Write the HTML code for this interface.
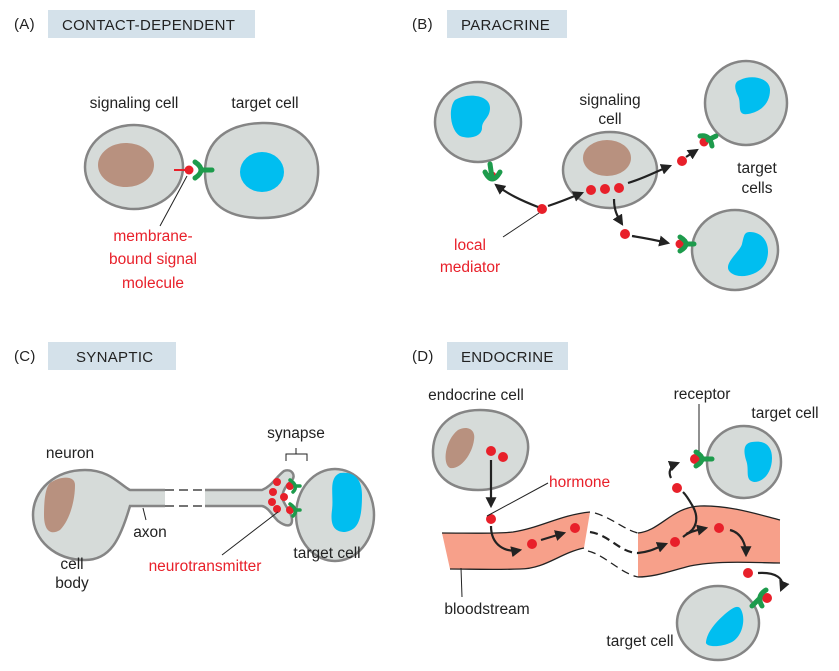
<!DOCTYPE html>
<html><head><meta charset="utf-8"><style>
html,body{margin:0;padding:0;background:#fff;}
svg{display:block;font-family:"Liberation Sans",sans-serif;}
.c{fill:#d6dbd9;stroke:#858585;stroke-width:2.5}
.br{fill:#b8917f}
.bl{fill:#00bef0}
.r{fill:#e8202a}
.rc{fill:none;stroke:#1d9b4c;stroke-width:5;stroke-linecap:round}
.t{font-size:15.5px;fill:#222}
.rt{font-size:15.5px;fill:#e8202a}
.lb{fill:#d4e1ea}
.lt{font-size:15px;fill:#222;letter-spacing:.3px}
.ar{fill:none;stroke:#222;stroke-width:2.2;marker-end:url(#ah)}
.ln{stroke:#222;stroke-width:1;fill:none}
</style></head><body>
<svg width="839" height="671" viewBox="0 0 839 671">
<defs><marker id="ah" viewBox="0 0 10 10" refX="8" refY="5" markerWidth="5" markerHeight="5" orient="auto"><path d="M0,0L10,5L0,10z" fill="#222"/></marker></defs>

<!-- A -->
<text x="14" y="29" class="lt">(A)</text>
<rect x="48" y="10" width="207" height="28" class="lb"/>
<text x="62" y="30" class="lt">CONTACT-DEPENDENT</text>
<text x="134" y="108" class="t" text-anchor="middle">signaling cell</text>
<text x="265" y="108" class="t" text-anchor="middle">target cell</text>
<ellipse cx="134" cy="167" rx="49" ry="42" class="c"/>
<ellipse cx="126" cy="165" rx="28" ry="22" class="br"/>
<path d="M262,123 C300,122 320,145 318,175 C316,205 295,218 262,218 C228,218 205,205 205,172 C205,140 228,124 262,123Z" class="c"/>
<ellipse cx="262" cy="172" rx="22" ry="20" class="bl"/>
<line x1="174" y1="170" x2="188" y2="170" stroke="#e8202a" stroke-width="2"/>
<circle cx="189" cy="170" r="4.5" class="r"/>
<path d="M195,162 Q207,170 195,178 M202,170 L212,170" class="rc"/>
<line x1="187" y1="176" x2="160" y2="226" class="ln"/>
<text x="153" y="241" class="rt" text-anchor="middle">membrane-</text>
<text x="153" y="264" class="rt" text-anchor="middle">bound signal</text>
<text x="153" y="288" class="rt" text-anchor="middle">molecule</text>

<!-- B -->
<text x="412" y="29" class="lt">(B)</text>
<rect x="447" y="10" width="120" height="28" class="lb"/>
<text x="461" y="30" class="lt">PARACRINE</text>
<ellipse cx="478" cy="122" rx="43" ry="40" class="c"/>
<path d="M455,100 C468,92 490,95 490,108 C490,118 482,120 482,128 C482,136 470,140 460,136 C450,130 448,108 455,100Z" class="bl"/>
<circle cx="492" cy="176" r="4.5" class="r"/>
<path d="M485,172 Q492,186 500,172 M492,178 L490,164" class="rc"/>
<text x="610" y="105" class="t" text-anchor="middle">signaling</text>
<text x="610" y="124" class="t" text-anchor="middle">cell</text>
<ellipse cx="610" cy="170" rx="47" ry="38" class="c"/>
<ellipse cx="607" cy="158" rx="24" ry="18" class="br"/>
<circle cx="591" cy="190" r="5" class="r"/><circle cx="605" cy="189" r="5" class="r"/><circle cx="619" cy="188" r="5" class="r"/>
<ellipse cx="746" cy="103" rx="41" ry="42" class="c"/>
<path d="M740,80 C752,74 770,78 770,90 C770,104 760,112 748,114 C736,116 742,104 738,96 C734,88 734,82 740,80Z" class="bl"/>
<circle cx="704" cy="142" r="4.5" class="r"/>
<path d="M700,136 Q710,134 712,146 M708,140 L716,136" class="rc"/>
<text x="757" y="173" class="t" text-anchor="middle">target</text>
<text x="757" y="193" class="t" text-anchor="middle">cells</text>
<ellipse cx="735" cy="250" rx="43" ry="40" class="c"/>
<path d="M750,232 C764,232 772,246 766,262 C760,276 738,280 730,272 C722,264 740,252 742,244 C744,236 744,232 750,232Z" class="bl"/>
<circle cx="680" cy="244" r="4.5" class="r"/>
<path d="M680,237 Q692,244 680,251 M686,244 L694,244" class="rc"/>
<circle cx="542" cy="209" r="5" class="r"/>
<circle cx="682" cy="161" r="5" class="r"/>
<circle cx="625" cy="234" r="5" class="r"/>
<path d="M538,207 C520,200 508,194 496,185" class="ar"/>
<path d="M548,206 C560,202 570,198 582,193" class="ar"/>
<path d="M628,183 C645,178 655,172 670,166" class="ar"/>
<path d="M686,157 L697,150" class="ar"/>
<path d="M614,199 C614,210 617,216 622,224" class="ar"/>
<path d="M632,236 C645,238 655,240 668,243" class="ar"/>
<line x1="539" y1="213" x2="503" y2="237" class="ln"/>
<text x="470" y="250" class="rt" text-anchor="middle">local</text>
<text x="470" y="272" class="rt" text-anchor="middle">mediator</text>

<!-- C -->
<text x="14" y="361" class="lt">(C)</text>
<rect x="48" y="342" width="128" height="28" class="lb"/>
<text x="76" y="362" class="lt">SYNAPTIC</text>
<text x="70" y="458" class="t" text-anchor="middle">neuron</text>
<path d="M130,490 L262,490 C272,486 276,477 284,471 C292,468 296,476 292,480 C284,487 281,495 283,500 C285,506 292,513 292,520 C292,527 286,527 278,521 C272,515 268,507 262,506 L130,506 C120,540 110,560 85,560 C55,560 33,540 33,515 C33,490 55,470 85,470 C110,470 120,485 130,490Z" class="c"/>
<rect x="165" y="487" width="40" height="22" fill="#fff"/>
<line x1="165" y1="490" x2="205" y2="490" stroke="#222" stroke-dasharray="9,5" stroke-width="1.3"/>
<line x1="165" y1="506" x2="205" y2="506" stroke="#222" stroke-dasharray="9,5" stroke-width="1.3"/>
<path d="M50,483 C60,476 75,475 75,485 C75,500 70,520 60,530 C50,536 44,530 44,515 C44,502 45,488 50,483Z" class="br"/>
<ellipse cx="335" cy="515" rx="39" ry="46" class="c"/>
<path d="M340,473 C355,471 362,480 362,495 C362,520 358,530 345,532 C334,532 330,525 332,510 C334,495 328,478 340,473Z" class="bl"/>
<circle cx="277" cy="482" r="4" class="r"/><circle cx="273" cy="492" r="4" class="r"/><circle cx="272" cy="502" r="4" class="r"/><circle cx="277" cy="509" r="4" class="r"/><circle cx="284" cy="497" r="4" class="r"/>
<circle cx="290" cy="486" r="4" class="r"/>
<path d="M290,480 Q299,486 293,492 M295,486 L300,486" class="rc" style="stroke-width:3.5"/>
<circle cx="290" cy="510" r="4" class="r"/>
<path d="M290,504 Q299,510 293,516 M295,510 L300,510" class="rc" style="stroke-width:3.5"/>
<path d="M286,461 L286,454 L307,454 L307,461 M296,454 L296,448" class="ln"/>
<text x="296" y="438" class="t" text-anchor="middle">synapse</text>
<line x1="143" y1="508" x2="146" y2="520" class="ln"/>
<text x="150" y="537" class="t" text-anchor="middle">axon</text>
<line x1="278" y1="512" x2="222" y2="555" class="ln"/>
<text x="205" y="571" class="rt" text-anchor="middle">neurotransmitter</text>
<text x="327" y="558" class="t" text-anchor="middle">target cell</text>
<text x="72" y="569" class="t" text-anchor="middle">cell</text>
<text x="72" y="588" class="t" text-anchor="middle">body</text>

<!-- D -->
<text x="412" y="361" class="lt">(D)</text>
<rect x="447" y="342" width="121" height="28" class="lb"/>
<text x="461" y="362" class="lt">ENDOCRINE</text>
<text x="476" y="400" class="t" text-anchor="middle">endocrine cell</text>
<path d="M480,410 C510,410 530,428 528,450 C526,475 505,490 478,490 C450,490 432,475 433,450 C434,428 450,410 480,410Z" class="c"/>
<path d="M458,430 C468,425 476,430 474,440 C472,455 460,470 450,468 C442,464 445,440 458,430Z" class="br"/>
<circle cx="491" cy="451" r="5" class="r"/><circle cx="503" cy="457" r="5" class="r"/>
<path d="M491,460 L491,506" class="ar"/>
<path d="M442,533 C470,533 495,534 513,532 C540,528 560,515 590,512 L584,548 C560,553 545,569 520,569 C490,570 470,569 450,569Z" fill="#f7a08a"/>
<path d="M442,533 C470,533 495,534 513,532 C540,528 560,515 590,512" fill="none" stroke="#222" stroke-width="1.3"/>
<path d="M450,569 C470,569 490,570 520,569 C545,569 560,553 584,548" fill="none" stroke="#222" stroke-width="1.3"/>
<path d="M638,533 C660,531 672,507 700,506 C730,505 760,515 780,520 L780,563 C760,563 720,560 690,566 C670,571 655,577 638,577Z" fill="#f7a08a"/>
<path d="M638,533 C660,531 672,507 700,506 C730,505 760,515 780,520" fill="none" stroke="#222" stroke-width="1.3"/>
<path d="M638,577 C655,577 670,571 690,566 C720,560 760,563 780,563" fill="none" stroke="#222" stroke-width="1.3"/>
<path d="M595,513 C612,518 625,530 638,533" fill="none" stroke="#222" stroke-width="1.3" stroke-dasharray="8,5"/>
<path d="M588,551 C605,555 620,573 638,577" fill="none" stroke="#222" stroke-width="1.3" stroke-dasharray="8,5"/>
<path d="M590,532 C610,535 620,553 638,553" fill="none" stroke="#222" stroke-width="2.2" stroke-dasharray="8,5"/>
<circle cx="491" cy="519" r="5" class="r"/>
<path d="M491,526 C491,545 505,553 520,550" class="ar"/>
<circle cx="532" cy="544" r="5" class="r"/>
<path d="M541,540 L564,533" class="ar"/>
<circle cx="575" cy="528" r="5" class="r"/>
<path d="M638,553 C650,552 656,548 666,544" class="ar"/>
<circle cx="675" cy="542" r="5" class="r"/>
<path d="M683,537 C690,531 698,530 706,528" class="ar"/>
<circle cx="719" cy="528" r="5" class="r"/>
<path d="M730,530 C742,533 746,545 746,555" class="ar"/>
<path d="M686,534 C696,530 700,518 692,505 C688,498 686,495 683,492" fill="none" stroke="#222" stroke-width="2.2"/>
<circle cx="677" cy="488" r="5" class="r"/>
<path d="M671,478 C668,472 670,466 678,463" class="ar"/>
<circle cx="748" cy="573" r="5" class="r"/>
<path d="M758,573 C775,572 786,578 781,590" class="ar"/>
<line x1="487" y1="516" x2="548" y2="483" class="ln"/>
<text x="549" y="487" class="rt">hormone</text>
<text x="702" y="399" class="t" text-anchor="middle">receptor</text>
<line x1="699" y1="404" x2="699" y2="452" class="ln"/>
<text x="785" y="418" class="t" text-anchor="middle">target cell</text>
<ellipse cx="744" cy="462" rx="37" ry="36" class="c"/>
<path d="M752,442 C764,440 772,445 772,458 C772,472 764,482 754,482 C744,480 750,470 746,460 C743,450 744,443 752,442Z" class="bl"/>
<circle cx="695" cy="459" r="5" class="r"/>
<path d="M696,452 Q708,459 696,466 M703,459 L712,459" class="rc"/>
<ellipse cx="718" cy="623" rx="41" ry="37" class="c"/>
<path d="M740,608 C746,616 744,635 732,642 C720,648 705,647 706,642 C707,632 716,622 725,614 C732,608 737,605 740,608Z" class="bl"/>
<circle cx="767" cy="598" r="5" class="r"/>
<path d="M766,590 Q756,596 762,606 M760,598 L752,606" class="rc"/>
<text x="640" y="646" class="t" text-anchor="middle">target cell</text>
<line x1="461" y1="568" x2="462" y2="597" class="ln"/>
<text x="487" y="614" class="t" text-anchor="middle">bloodstream</text>
</svg>
</body></html>
